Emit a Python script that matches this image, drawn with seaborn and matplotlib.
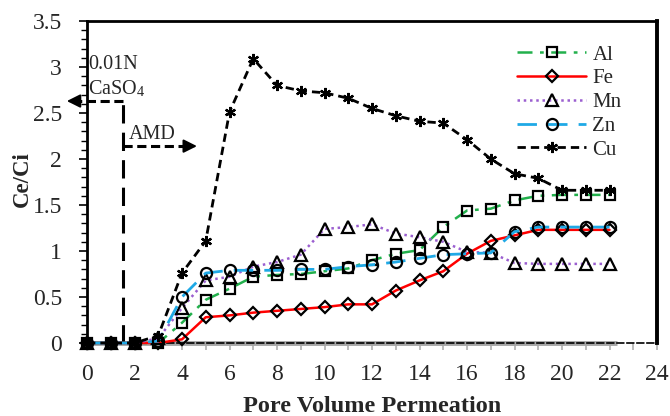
import numpy as np
import pandas as pd
import matplotlib
matplotlib.use("Agg")
import matplotlib.pyplot as plt
import seaborn as sns
from matplotlib.ticker import MultipleLocator

pv = list(range(0, 23))
al = [0, 0, 0, 0, 0.22, 0.47, 0.59, 0.72, 0.74, 0.75, 0.78, 0.81, 0.90, 0.97, 1.01, 1.26, 1.44, 1.46, 1.55, 1.60, 1.61, 1.61, 1.61]
fe = [0, 0, 0, 0, 0.04, 0.28, 0.30, 0.33, 0.35, 0.37, 0.39, 0.42, 0.42, 0.57, 0.68, 0.78, 0.97, 1.11, 1.17, 1.23, 1.23, 1.23, 1.23]
mn = [0, 0, 0, 0.05, 0.38, 0.68, 0.72, 0.83, 0.88, 0.96, 1.24, 1.26, 1.29, 1.19, 1.15, 1.10, 0.99, 0.98, 0.87, 0.86, 0.86, 0.86, 0.86]
zn = [0, 0, 0, 0.02, 0.50, 0.76, 0.79, 0.79, 0.79, 0.80, 0.80, 0.83, 0.85, 0.88, 0.92, 0.96, 0.97, 0.98, 1.21, 1.26, 1.26, 1.26, 1.26]
cu = [0, 0, 0, 0.08, 0.76, 1.11, 2.51, 3.09, 2.80, 2.74, 2.72, 2.66, 2.55, 2.47, 2.41, 2.39, 2.21, 2.00, 1.84, 1.79, 1.66, 1.66, 1.66]

sns.set_style("white")
plt.rcParams['font.family'] = ['Liberation Serif', 'DejaVu Serif']
plt.rcParams['mathtext.fontset'] = 'stix'

fig = plt.figure(figsize=(6.7, 4.16), dpi=100)
ax = fig.add_axes([87/670, 1-343/416, 570/670, 322/416])

styles = [
    ("Al", al, "#22b04c", (0, (6, 3, 1.5, 3)), 1.8, "s", 7.5),
    ("Fe", fe, "#ff0000", "-", 1.8, "D", 6.0),
    ("Mn", mn, "#9b5fd0", (0, (1, 1.5)), 1.8, "^", 8.0),
    ("Zn", zn, "#1fa9e6", (0, (7, 4)), 2.0, "o", 8.0),
    ("Cu", cu, "black", (0, (3, 1.8)), 2.0, (6, 2, 0), 8.0),
]

# gray baseline at y=0
ax.plot([0, 22.3], [0, 0], color="#a6a6a6", lw=3.5, zorder=1, clip_on=False, solid_capstyle='butt')

for name, vals, col, ls, lw, mk, ms in styles:
    df = pd.DataFrame({"pv": pv, "v": vals})
    sns.lineplot(data=df, x="pv", y="v", ax=ax, color=col, linestyle=ls, lw=lw,
                 marker=mk, markersize=ms, markerfacecolor="none",
                 markeredgecolor="black", markeredgewidth=1.6, label=name,
                 clip_on=False, zorder=3)

ax.set_xlim(0, 24)
ax.set_ylim(0, 3.5)
ax.xaxis.set_major_locator(MultipleLocator(2))
ax.xaxis.set_minor_locator(MultipleLocator(1))
ax.yaxis.set_minor_locator(MultipleLocator(0.1))
ax.set_yticks([0, 0.5, 1, 1.5, 2, 2.5, 3, 3.5])
ax.set_yticklabels(["0", "0.5", "1", "1.5", "2", "2.5", "3", "3.5"])
ax.tick_params(axis='y', which='major', direction='out', length=6, width=1.2, color='black', labelsize=17, left=True, pad=12)
ax.tick_params(axis='y', which='minor', direction='out', length=4, width=1.0, color='black', left=True)
ax.tick_params(axis='x', which='both', direction='out', length=5, width=1.2, color='#b0b0b0', labelsize=17, bottom=True, pad=10)

for s in ["left", "top"]:
    ax.spines[s].set_color("black")
    ax.spines[s].set_linewidth(2)
ax.spines["right"].set_color("black")
ax.spines["right"].set_linewidth(2.8)
ax.spines["bottom"].set_color("black")
ax.spines["bottom"].set_linewidth(1.2)
ax.spines["bottom"].set_linestyle((0, (4, 2)))

ax.set_xlabel("Pore Volume Permeation", fontsize=17.5, fontweight="bold", labelpad=8)
ax.set_ylabel("Ce/Ci", fontsize=16.5, fontweight="bold")
ax.yaxis.set_label_coords(-0.095, 0.51)

# annotations
ax.plot([1.5, 1.5], [0, 2.63], color="black", lw=2.2, linestyle=(0, (6, 3)), zorder=2)
ax.plot([1.5, -0.35], [2.63, 2.63], color="black", lw=2.2, linestyle=(0, (3, 1.5)), clip_on=False, zorder=2)
ax.annotate("", xy=(-0.85, 2.63), xytext=(-0.3, 2.63),
            arrowprops=dict(arrowstyle='-|>', color='black', lw=1.5, mutation_scale=20, shrinkA=0, shrinkB=0),
            annotation_clip=False)
ax.plot([1.5, 4.1], [2.14, 2.14], color="black", lw=2.2, linestyle=(0, (3, 1.5)), zorder=2)
ax.annotate("", xy=(4.63, 2.14), xytext=(4.05, 2.14),
            arrowprops=dict(arrowstyle='-|>', color='black', lw=1.5, mutation_scale=20, shrinkA=0, shrinkB=0),
            annotation_clip=False)
ax.text(0.05, 3.03, "0.01N", fontsize=14.5, ha="left", va="center")
ax.text(0.05, 2.76, "CaSO$_\\mathregular{4}$", fontsize=14.5, ha="left", va="center")
ax.text(1.75, 2.27, "AMD", fontsize=14.5, ha="left", va="center")

leg = ax.legend(loc="upper left", bbox_to_anchor=(0.755, 0.925), frameon=False,
                fontsize=15, handlelength=3.3, handletextpad=0.3, labelspacing=0.2,
                borderpad=0, borderaxespad=0)

fig.savefig("out.png", dpi=100)
